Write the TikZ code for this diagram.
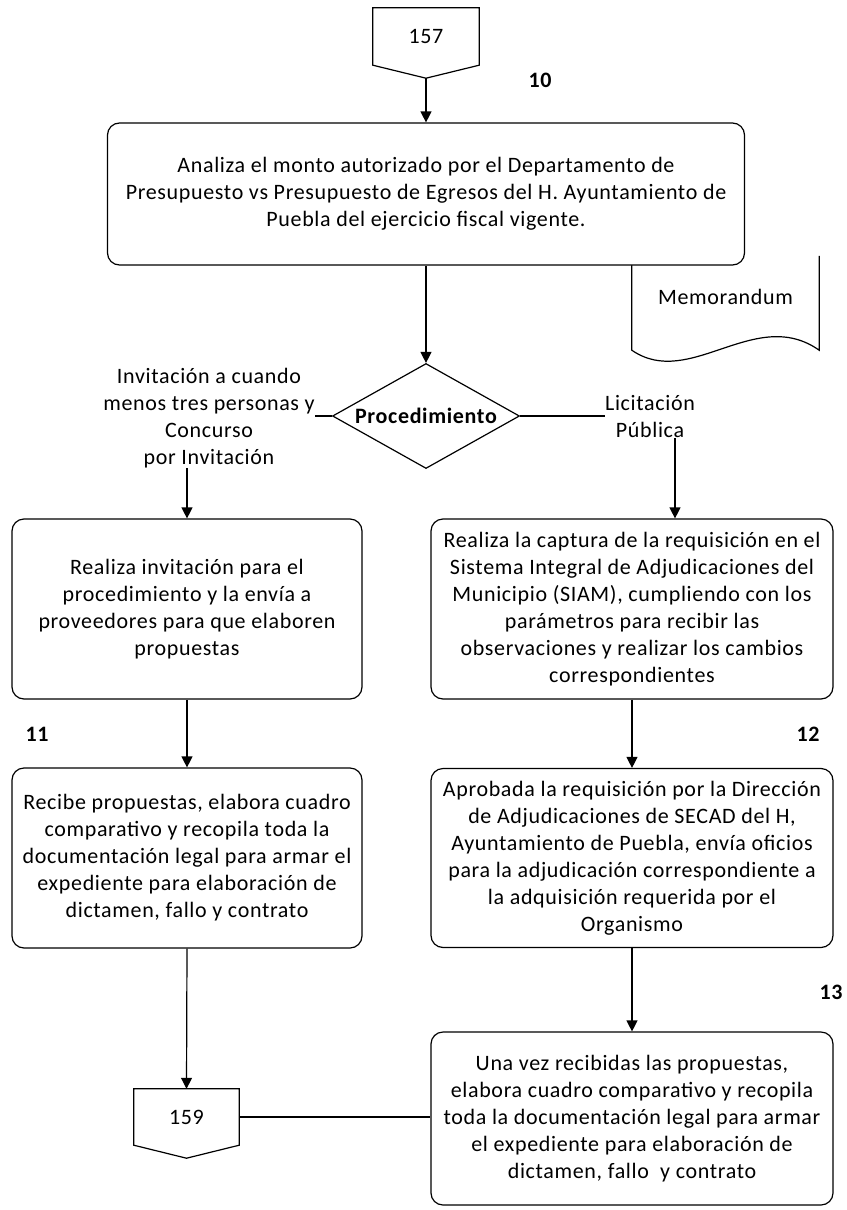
\documentclass[tikz,border=0pt]{standalone}
\usepackage{fontspec}
\setmainfont{Carlito}[LetterSpace=3]
\usepackage{tikz}
\usetikzlibrary{arrows.meta,positioning,shapes.geometric}
\newcommand{\flowfont}{\fontsize{22}{27}\selectfont}
\tikzset{
  procnode/.style={rectangle,draw=black,line width=1.2pt,rounded corners=12pt,align=center,inner sep=2pt,fill=white},
  decnode/.style={diamond,draw=black,line width=1.2pt,aspect=1.78,minimum width=187pt,minimum height=105pt,inner sep=0pt,font=\flowfont\bfseries,fill=white},
  lblnode/.style={align=center,inner sep=0pt},
  numnode/.style={font=\flowfont\bfseries,inner sep=0pt},
  connnode/.style={minimum width=106pt,minimum height=57pt,inner sep=0pt},
  flowline/.style={line width=1.2pt,draw=black},
  flowarrow/.style={-{Triangle[length=11pt,width=11pt]},line width=1.2pt,draw=black}
}

\begin{document}
\begin{tikzpicture}[x=1pt,y=-1pt,font=\flowfont]
  \useasboundingbox (0,0) rectangle (846,1210);
  % conector de entrada
  \node[connnode] (c157) at (426,36.5) {157};
  \draw[flowline] (c157.north west) -- (c157.north east) -- (c157.south east)
    -- ([yshift=-13pt]c157.south) -- (c157.south west) -- cycle;
  \coordinate (c157tip) at ([yshift=-13pt]c157.south);
  \node[numnode] (n10) at (540,80) {10};
  % documento
  \node[lblnode,minimum width=187pt,minimum height=82pt] (memo) at (725.5,297) {Memorandum};
  \draw[flowline] (memo.north west) -- ([yshift=-12pt]memo.south west)
    .. controls ([xshift=58pt,yshift=-52pt]memo.south west) and ([xshift=-64pt,yshift=33pt]memo.south east)
    .. ([yshift=-12pt]memo.south east) -- (memo.north east);
  \node[procnode,minimum width=637pt,minimum height=142pt] (analiza) at (426,194)
    {Analiza el monto autorizado por el Departamento de\\
     Presupuesto vs Presupuesto de Egresos del H. Ayuntamiento de\\
     Puebla del ejercicio fiscal vigente.};
  \draw[flowarrow] (c157tip) -- (analiza.north);
  % decision
  \node[decnode] (proc) at (426,416) {Procedimiento};
  \draw[flowarrow] (analiza.south) -- (proc.north);
  \node[lblnode] (lblinv) at (209,418)
    {Invitación a cuando\\menos tres personas y\\Concurso\\por Invitación};
  \node[lblnode] (lbllic) at (650,417) {Licitación\\Pública};
  \draw[flowline] (proc.west) -- (proc.west -| lblinv.east);
  \draw[flowline] (proc.east) -- (proc.east -| lbllic.west);
  % rama izquierda
  \node[procnode,minimum width=350pt,minimum height=180pt] (invita) at (187,609)
    {Realiza invitación para el\\procedimiento y la envía a\\proveedores para que elaboren\\propuestas};
  \node[procnode,minimum width=350pt,minimum height=180pt] (recibe) at (187,858)
    {Recibe propuestas, elabora cuadro\\comparativo y recopila toda la\\documentación legal para armar el\\expediente para elaboración de\\dictamen, fallo y contrato};
  \node[numnode] (n11) at (37,734) {11};
  \draw[flowarrow] (lblinv.south -| invita.north) -- (invita.north);
  \draw[flowarrow] (invita.south) -- (recibe.north);
  % rama derecha
  \node[procnode,minimum width=402pt,minimum height=180pt] (captura) at (632,609)
    {Realiza la captura de la requisición en el\\Sistema Integral de Adjudicaciones del\\Municipio (SIAM), cumpliendo con los\\parámetros para recibir las\\observaciones y realizar los cambios\\correspondientes};
  \node[procnode,minimum width=402pt,minimum height=179pt] (aprobada) at (632,858)
    {Aprobada la requisición por la Dirección\\de Adjudicaciones de SECAD del H,\\Ayuntamiento de Puebla, envía oficios\\para la adjudicación correspondiente a\\la adquisición requerida por el\\Organismo};
  \node[procnode,minimum width=402pt,minimum height=173pt] (unavez) at (632,1118.5)
    {Una vez recibidas las propuestas,\\elabora cuadro comparativo y recopila\\toda la documentación legal para armar\\el expediente para elaboración de\\dictamen, fallo\ \ y contrato};
  \node[numnode] (n12) at (808,734) {12};
  \node[numnode] (n13) at (831,992) {13};
  \draw[flowarrow] ([xshift=25pt]lbllic.south) -- ([xshift=25pt]lbllic.south |- captura.north);
  \draw[flowarrow] (captura.south) -- (aprobada.north);
  \draw[flowarrow] (aprobada.south) -- (unavez.north);
  % conector de salida
  \node[connnode,minimum width=105pt,minimum height=56pt] (c159) at (186.5,1117) {159};
  \draw[flowline] (c159.north west) -- (c159.north east) -- (c159.south east)
    -- ([yshift=-13pt]c159.south) -- (c159.south west) -- cycle;
  \draw[flowarrow] (recibe.south) -- (c159.north);
  \draw[flowline] (c159.east) -- (c159.east -| unavez.west);
\end{tikzpicture}
\end{document}
